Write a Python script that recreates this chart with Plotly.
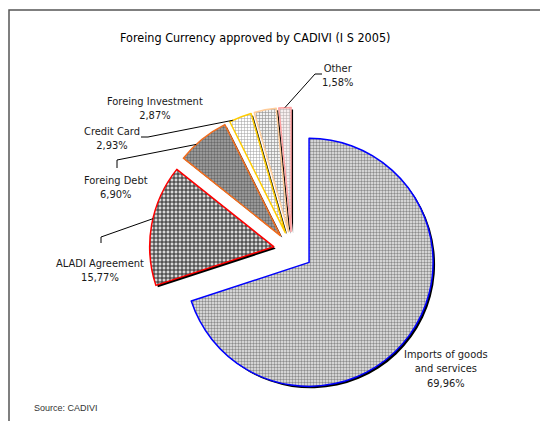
import numpy as np
import plotly.graph_objects as go

# ---------------- data ----------------
categories = ["Imports of goods and services", "ALADI Agreement", "Foreing Debt",
              "Credit Card", "Foreing Investment", "Other"]
shares = [69.96, 15.77, 6.90, 2.93, 2.87, 1.58]
title_text = "Foreing Currency approved by CADIVI (I S 2005)"
source_text = "Source: CADIVI"

# ---------------- styles ----------------
W, H = 540, 421
FONT = "DejaVu Sans Condensed, Roboto, sans-serif"
CX, CY, R = 292, 250, 124          # pie centre / radius in pixels
pulls = [0.17, 0.15, 0.15, 0.15, 0.15, 0.15]
line_colors = ["#0000ff", "#ff0000", "#f26c1c", "#ffcc00", "#ffcc99", "#ff9f9f"]
pat_shape = [".", "+", ".", "+", "+", "+"]
pat_fg = ["#8c8c8c", "#2a2a2a", "#6a6a6a", "#9c9c9c", "#8c8c8c", "#b0a8a8"]
pat_bg = ["#ececec", "#d8d8d8", "#a8a8a8", "#ffffff", "#f2f2f2", "#f6eeee"]
pat_size = [3, 4, 3, 3, 3, 3]
pat_sol = [0.5, 0.45, 0.5, 0.3, 0.35, 0.3]
# label centres (pixels) and leader-line elbows
label_pos = [(446, 369), (100, 270), (116, 188), (112, 138), (155, 109), (337, 75)]
leaders = {1: ([(101, 243), (101, 237)], 0.55),
           2: ([(117, 168), (117, 160)], 0.35),
           3: ([(141, 137), (148, 137)], 0.15),
           5: ([(322, 74), (315, 74)], 0.5)}


def px(x):
    return x / W


def py(y):
    return 1 - y / H


maxpull = max(pulls)
half = R * (1 + maxpull)
dom_x = [px(CX - half), px(CX + half)]
dom_y = [py(CY + half), py(CY - half)]

fig = go.Figure()

# shadow pie (offset down-right)
off = 2
fig.add_trace(go.Pie(
    values=shares, labels=categories, sort=False, direction="clockwise", rotation=0,
    pull=pulls, textinfo="none", hoverinfo="skip", showlegend=False,
    marker=dict(colors=["#000000"] * len(shares), line=dict(width=0)),
    domain=dict(x=[px(CX - half + off), px(CX + half + off)],
                y=[py(CY + half + off), py(CY - half + off)]),
))

fig.add_trace(go.Pie(
    values=shares, labels=categories, sort=False, direction="clockwise", rotation=0,
    pull=pulls, textinfo="none", showlegend=False,
    marker=dict(colors=pat_bg,
                line=dict(color=line_colors, width=1.5),
                pattern=dict(shape=pat_shape, fgcolor=pat_fg, bgcolor=pat_bg,
                             size=pat_size, solidity=pat_sol)),
    domain=dict(x=dom_x, y=dom_y),
))

# slice geometry for leader-line end points
tot = sum(shares)
cum = np.concatenate([[0], np.cumsum(shares)]) / tot * 360.0


def arc_point(i, frac):
    a0, a1 = cum[i], cum[i + 1]
    mid = np.radians((a0 + a1) / 2)
    ax = CX + pulls[i] * R * np.sin(mid)
    ay = CY - pulls[i] * R * np.cos(mid)
    t = np.radians(a0 + frac * (a1 - a0))
    return ax + R * np.sin(t), ay - R * np.cos(t)


shapes = []
for i, (elbow, frac) in leaders.items():
    pts = elbow + [arc_point(i, frac)]
    d = "M " + " L ".join(f"{px(x)},{py(y)}" for x, y in pts)
    shapes.append(dict(type="path", path=d, xref="paper", yref="paper",
                       line=dict(color="#000000", width=1)))

# frame
shapes.append(dict(type="rect", xref="paper", yref="paper",
                   x0=px(9), x1=px(W + 5), y0=py(10), y1=py(H + 5),
                   line=dict(color="#555555", width=1.5)))

annotations = []
for i, (name, v) in enumerate(zip(categories, shares)):
    txt = name.replace(" and ", "<br>and ") + "<br>" + f"{v:.2f}".replace(".", ",") + "%"
    x, y = label_pos[i]
    annotations.append(dict(text=txt, x=px(x), y=py(y), xref="paper", yref="paper",
                            showarrow=False, xanchor="center", yanchor="middle",
                            align="center", font=dict(family=FONT, size=11, color="#1a1a1a")))

annotations.append(dict(text=title_text, x=px(255), y=py(38), xref="paper", yref="paper",
                        showarrow=False, xanchor="center", yanchor="middle",
                        font=dict(family=FONT, size=12.5, color="#000000")))
annotations.append(dict(text=source_text, x=px(32), y=py(408), xref="paper", yref="paper",
                        showarrow=False, xanchor="left", yanchor="middle",
                        font=dict(family="Liberation Sans, Arial", size=9,
                                  color="#333333")))

fig.update_layout(width=W, height=H, margin=dict(l=0, r=0, t=0, b=0),
                  paper_bgcolor="white", plot_bgcolor="white",
                  shapes=shapes, annotations=annotations, showlegend=False)

fig.write_html("out.html", config={"displayModeBar": False},
               post_script="document.body.style.margin='0';")
